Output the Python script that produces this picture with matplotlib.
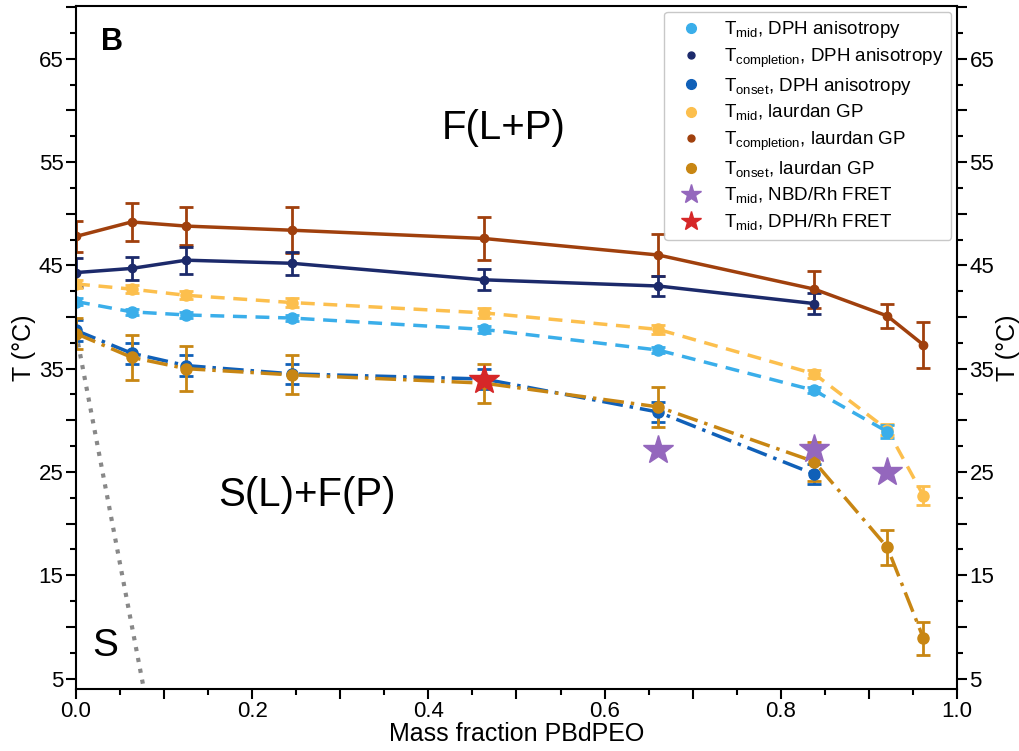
import matplotlib
matplotlib.use('Agg')
import matplotlib.pyplot as plt
from matplotlib.lines import Line2D
from matplotlib.ticker import MultipleLocator, FuncFormatter

plt.rcParams['font.family'] = ['Liberation Sans', 'DejaVu Sans']
plt.rcParams['mathtext.fontset'] = 'custom'
plt.rcParams['mathtext.rm'] = 'Liberation Sans'

# mass fraction of PBdPEO
x_all = [0.0, 0.063, 0.125, 0.245, 0.463, 0.661, 0.838, 0.921, 0.962]
x_dph = x_all[:7]
x_dph_mid = x_all[:8]

# laurdan GP
comp_laurdan = [47.8, 49.2, 48.8, 48.4, 47.6, 46.0, 42.7, 40.1, 37.3]
comp_laurdan_err = [1.5, 1.8, 1.8, 2.2, 2.1, 2.0, 1.8, 1.2, 2.2]
mid_laurdan = [43.2, 42.7, 42.1, 41.4, 40.4, 38.8, 34.5, 29.1, 22.7]
mid_laurdan_err = [0.4, 0.4, 0.4, 0.4, 0.5, 0.4, 0.4, 0.5, 0.9]
onset_laurdan = [38.4, 36.1, 35.0, 34.4, 33.6, 31.3, 26.0, 17.7, 8.9]
onset_laurdan_err = [1.5, 2.2, 2.2, 1.9, 1.9, 1.9, 1.9, 1.7, 1.6]

# DPH anisotropy
comp_dph = [44.3, 44.7, 45.5, 45.2, 43.6, 43.0, 41.3]
comp_dph_err = [1.4, 1.1, 1.3, 1.1, 1.0, 1.0, 1.0]
mid_dph = [41.5, 40.5, 40.2, 39.9, 38.8, 36.8, 32.9, 28.9]
mid_dph_err = [0.3, 0.3, 0.3, 0.3, 0.3, 0.3, 0.3, 0.6]
onset_dph = [38.7, 36.5, 35.3, 34.5, 34.0, 30.8, 24.8]
onset_dph_err = [1.0, 1.0, 1.0, 1.0, 1.0, 1.0, 1.0]

# FRET midpoints
x_nbd = [0.661, 0.838, 0.921]
mid_nbd = [27.1, 27.2, 25.0]
x_dphrh = [0.463]
mid_dphrh = [33.9]

# S / S(L)+F(P) boundary
x_bound = [0.0, 0.077]
t_bound = [38.5, 4.0]

c_mid_dph = '#3aaeea'
c_comp_dph = '#1c2a6b'
c_onset_dph = '#1060b8'
c_mid_lau = '#fcbf4d'
c_comp_lau = '#a0400d'
c_onset_lau = '#c88613'
c_nbd = '#9467bd'
c_dphrh = '#d62728'

fig = plt.figure(figsize=(10.19, 7.51), dpi=100)
ax = fig.add_axes([0.0746, 0.0826, 0.8645, 0.9094])

ax.plot(x_bound, t_bound, ls=':', color='#888888', lw=3, zorder=1)

ekw = dict(capsize=5, elinewidth=2, capthick=2, lw=2.5)
ax.errorbar(x_all, comp_laurdan, yerr=comp_laurdan_err, color=c_comp_lau,
            marker='o', ms=6, ls='-', **ekw)
ax.errorbar(x_dph, comp_dph, yerr=comp_dph_err, color=c_comp_dph,
            marker='o', ms=6, ls='-', **ekw)
ax.errorbar(x_all, mid_laurdan, yerr=mid_laurdan_err, color=c_mid_lau,
            marker='o', ms=8, ls=(0, (4, 2.5)), **ekw)
ax.errorbar(x_dph_mid, mid_dph, yerr=mid_dph_err, color=c_mid_dph,
            marker='o', ms=8, ls=(0, (4, 2.5)), **ekw)
ax.errorbar(x_dph, onset_dph, yerr=onset_dph_err, color=c_onset_dph,
            marker='o', ms=8, ls=(0, (6, 2, 1, 2)), **ekw)
ax.errorbar(x_all, onset_laurdan, yerr=onset_laurdan_err, color=c_onset_lau,
            marker='o', ms=8, ls=(0, (6, 2, 1, 2)), **ekw)

ax.plot(x_nbd, mid_nbd, ls='none', marker='*', ms=22, color=c_nbd, zorder=5)
ax.plot(x_dphrh, mid_dphrh, ls='none', marker='*', ms=22, color=c_dphrh, zorder=5)

ax.set_xlim(0, 1)
ax.set_ylim(4, 70.1)

ax.xaxis.set_major_locator(MultipleLocator(0.1))
ax.xaxis.set_minor_locator(MultipleLocator(0.05))
ax.xaxis.set_major_formatter(FuncFormatter(
    lambda v, p: f'{v:.1f}' if round(v * 10) % 2 == 0 else ''))
ax.yaxis.set_major_locator(MultipleLocator(5))
ax.yaxis.set_minor_locator(MultipleLocator(2.5))
ax.yaxis.set_major_formatter(FuncFormatter(
    lambda v, p: f'{v:.0f}' if round(v) % 10 == 5 else ''))

ax.tick_params(which='both', direction='out', width=1.5, labelsize=16,
               right=True, labelright=True, pad=2)
ax.tick_params(which='major', length=7)
ax.tick_params(which='minor', length=4)
for s in ax.spines.values():
    s.set_linewidth(1.5)

ax.set_xlabel('Mass fraction PBdPEO', fontsize=18, labelpad=0)
ax.set_ylabel('T (°C)', fontsize=18, labelpad=2)
ax.text(1.058, 0.5, 'T (°C)', fontsize=18, rotation=90, ha='center',
        va='center', transform=ax.transAxes)

ax.text(0.041, 66.6, 'B', fontsize=22, fontweight='bold', ha='center', va='center')
ax.text(0.485, 58.3, 'F(L+P)', fontsize=29, ha='center', va='center')
ax.text(0.262, 22.8, 'S(L)+F(P)', fontsize=29, ha='center', va='center')
ax.text(0.033, 8.2, 'S', fontsize=28, ha='center', va='center')

handles = [
    Line2D([], [], ls='none', marker='o', ms=7, color=c_mid_dph),
    Line2D([], [], ls='none', marker='o', ms=5, color=c_comp_dph),
    Line2D([], [], ls='none', marker='o', ms=7, color=c_onset_dph),
    Line2D([], [], ls='none', marker='o', ms=7, color=c_mid_lau),
    Line2D([], [], ls='none', marker='o', ms=5, color=c_comp_lau),
    Line2D([], [], ls='none', marker='o', ms=7, color=c_onset_lau),
    Line2D([], [], ls='none', marker='*', ms=15, color=c_nbd),
    Line2D([], [], ls='none', marker='*', ms=15, color=c_dphrh),
]
labels = [
    r'T$_{\rm mid}$, DPH anisotropy',
    r'T$_{\rm completion}$, DPH anisotropy',
    r'T$_{\rm onset}$, DPH anisotropy',
    r'T$_{\rm mid}$, laurdan GP',
    r'T$_{\rm completion}$, laurdan GP',
    r'T$_{\rm onset}$, laurdan GP',
    r'T$_{\rm mid}$, NBD/Rh FRET',
    r'T$_{\rm mid}$, DPH/Rh FRET',
]
ax.legend(handles, labels, loc='upper right', fontsize=13.5, frameon=True,
          borderaxespad=0.3, handletextpad=0.8, labelspacing=0.33,
          edgecolor='#bbbbbb')

fig.savefig('out.png', dpi=100)
